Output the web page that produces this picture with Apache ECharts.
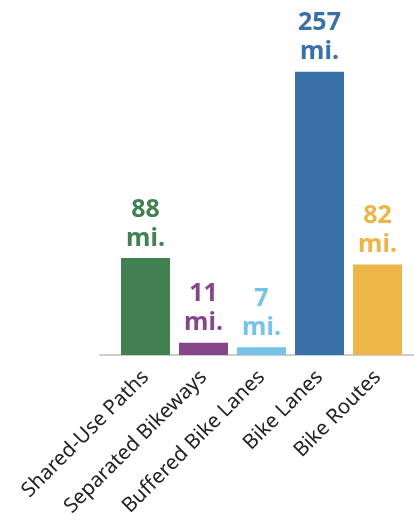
<!DOCTYPE html>
<html><head><meta charset="utf-8">
<style>html,body{margin:0;padding:0;background:#fff}#c{width:414px;height:525px}</style>
<script src="https://cdn.jsdelivr.net/npm/echarts@6/dist/echarts.min.js"></script>
</head><body><div id="c"></div>
<script>
const categories = ["Shared-Use Paths","Separated Bikeways","Buffered Bike Lanes","Bike Lanes","Bike Routes"];
const values = [88, 11, 7, 257, 82];
const colors = ["#427F51","#85468B","#76C2E8","#3A70A8","#EBB547"];
const unit = "mi.";

const chart = echarts.init(document.getElementById('c'));
chart.setOption({
  animation:false,
  grid:[
    {left:116.5, right:7.5, top:71.7, bottom:170, containLabel:false},
    {left:100, right:0, top:71.7, bottom:170, containLabel:false}
  ],
  xAxis:[
    {type:'category', data:categories, gridIndex:0,
     axisLine:{show:false}, axisTick:{show:false},
     axisLabel:{rotate:45, interval:0, margin:19, fontFamily:'Noto Sans', fontSize:20.5, color:'#222'}},
    {type:'value', gridIndex:1, min:0, max:1, show:true,
     axisLine:{show:true, lineStyle:{color:'#cccccc', width:2}},
     axisTick:{show:false}, axisLabel:{show:false}, splitLine:{show:false}}
  ],
  yAxis:[
    {type:'value', gridIndex:0, min:0, max:257, show:false, splitLine:{show:false}},
    {type:'value', gridIndex:1, min:0, max:1, show:false}
  ],
  series:[{
    type:'bar', xAxisIndex:0, yAxisIndex:0, z:3,
    barCategoryGap:'15.5%',
    data: values.map((v,i)=>({value:v,
      itemStyle:{color:colors[i]},
      label:{color:colors[i]}})),
    label:{show:true, position:'top', distance:5,
      fontFamily:'Noto Sans', fontWeight:'bold', fontSize:25, lineHeight:29,
      formatter: p => p.value + '\n' + unit}
  }]
});
</script></body></html>
